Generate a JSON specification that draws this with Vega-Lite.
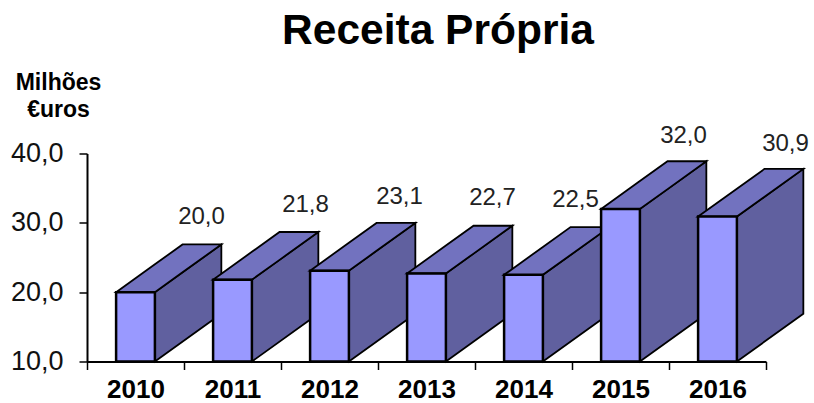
{
"$schema":"https://vega.github.io/schema/vega-lite/v6.json",
"width":679,"height":208,
"autosize":"none",
"padding":{"left":87,"top":153.5,"right":48,"bottom":41.5},
"background":"white",
"title":{"text":"Receita Própria","font":"Liberation Sans","fontSize":42.5,"fontWeight":"bold","color":"#000000","anchor":"middle","dx":11.5,"offset":23,"dy":38,"baseline":"alphabetic"},
"datasets":{"bars":[
{"year":2010,"value":20.0},{"year":2011,"value":21.8},{"year":2012,"value":23.1},{"year":2013,"value":22.7},{"year":2014,"value":22.5},{"year":2015,"value":32.0},{"year":2016,"value":30.9}]},
"data":{"name":"bars"},
"encoding":{},
"layer":[
{"transform":[
 {"calculate":"[0,1]","as":"t"},{"flatten":["t"]},
 {"calculate":"datum.year+0.2+0.685*datum.t","as":"px"},
 {"calculate":"10+6.88*datum.t","as":"low"},
 {"calculate":"datum.value+6.88*datum.t","as":"high"}],
 "mark":{"type":"area","orient":"vertical","color":"#60609f","stroke":"#000000","strokeWidth":1.8,"clip":false},
 "encoding":{
  "x":{"field":"px","type":"quantitative","scale":{"domain":[2009.5,2016.5]},
   "axis":{"values":[2009.5,2010,2010.5,2011,2011.5,2012,2012.5,2013,2013.5,2014,2014.5,2015,2015.5,2016,2016.5],
    "title":null,"grid":false,"domainColor":"#000000","domainWidth":2,"tickColor":"#000000","tickWidth":1.5,"tickSize":8,
    "tickOpacity":{"condition":{"test":"datum.value%1!=0","value":1},"value":0},
    "labelExpr":"datum.value%1==0 ? ''+datum.value : ''","labelFont":"Liberation Sans","labelFontSize":26,"labelFontWeight":"bold","labelColor":"#000000","labelPadding":7,"labelOverlap":false,"labelFlush":false}},
  "y":{"field":"high","type":"quantitative","scale":{"domain":[10,40]},
   "axis":{"values":[10,20,30,40],"title":["Milhões","€uros"],"titleFont":"Liberation Sans","titleFontSize":23,"titleFontWeight":"bold","titleColor":"#000000","titleAngle":0,"titleAlign":"center","titleBaseline":"middle","titleX":-29,"titleY":-71,"titleLineHeight":27,
    "grid":false,"domainColor":"#000000","domainWidth":2,"tickColor":"#000000","tickWidth":1.5,"tickSize":8,
    "labelExpr":"replace(format(datum.value,'.1f'),'.',',')","labelFont":"Liberation Sans","labelFontSize":27,"labelColor":"#111111","labelPadding":16}},
  "y2":{"field":"low"},
  "detail":{"field":"year"}}},
{"transform":[
 {"calculate":"[0,1,2,3]","as":"t"},{"flatten":["t"]},
 {"calculate":"datum.year-0.2+[0,0.4,0.685,1.085][datum.t]","as":"px"},
 {"calculate":"datum.value+[0,0,2.86,6.88][datum.t]","as":"low"},
 {"calculate":"datum.value+[0,4.02,6.88,6.88][datum.t]","as":"high"}],
 "mark":{"type":"area","orient":"vertical","color":"#7272bf","stroke":"#000000","strokeWidth":1.8,"clip":false},
 "encoding":{
  "x":{"field":"px","type":"quantitative"},
  "y":{"field":"high","type":"quantitative"},
  "y2":{"field":"low"},
  "detail":{"field":"year"}}},
{"transform":[
 {"calculate":"datum.year-0.2","as":"x1"},
 {"calculate":"datum.year+0.2","as":"x2"}],
 "mark":{"type":"rect","color":"#9999ff","stroke":"#000000","strokeWidth":2.5},
 "encoding":{
  "x":{"field":"x1","type":"quantitative"},
  "x2":{"field":"x2"},
  "y":{"field":"value","type":"quantitative"},
  "y2":{"datum":10}}},
{"transform":[{"filter":"datum.year==2010||datum.year==2013"},{"calculate":"replace(format(datum.value,'.1f'),'.',',')","as":"label"}],
 "mark":{"type":"text","font":"Liberation Sans","fontSize":24,"color":"#222222","dx":66,"dy":-75,"baseline":"middle"},
 "encoding":{"x":{"field":"year","type":"quantitative"},"y":{"field":"value","type":"quantitative"},"text":{"field":"label"}}},
{"transform":[{"filter":"datum.year==2011"},{"calculate":"replace(format(datum.value,'.1f'),'.',',')","as":"label"}],
 "mark":{"type":"text","font":"Liberation Sans","fontSize":24,"color":"#222222","dx":73,"dy":-75,"baseline":"middle"},
 "encoding":{"x":{"field":"year","type":"quantitative"},"y":{"field":"value","type":"quantitative"},"text":{"field":"label"}}},
{"transform":[{"filter":"datum.year==2012"},{"calculate":"replace(format(datum.value,'.1f'),'.',',')","as":"label"}],
 "mark":{"type":"text","font":"Liberation Sans","fontSize":24,"color":"#222222","dx":70,"dy":-74,"baseline":"middle"},
 "encoding":{"x":{"field":"year","type":"quantitative"},"y":{"field":"value","type":"quantitative"},"text":{"field":"label"}}},
{"transform":[{"filter":"datum.year==2014"},{"calculate":"replace(format(datum.value,'.1f'),'.',',')","as":"label"}],
 "mark":{"type":"text","font":"Liberation Sans","fontSize":24,"color":"#222222","dx":52,"dy":-75,"baseline":"middle"},
 "encoding":{"x":{"field":"year","type":"quantitative"},"y":{"field":"value","type":"quantitative"},"text":{"field":"label"}}},
{"transform":[{"filter":"datum.year==2015"},{"calculate":"replace(format(datum.value,'.1f'),'.',',')","as":"label"}],
 "mark":{"type":"text","font":"Liberation Sans","fontSize":24,"color":"#222222","dx":63,"dy":-73,"baseline":"middle"},
 "encoding":{"x":{"field":"year","type":"quantitative"},"y":{"field":"value","type":"quantitative"},"text":{"field":"label"}}},
{"transform":[{"filter":"datum.year==2016"},{"calculate":"replace(format(datum.value,'.1f'),'.',',')","as":"label"}],
 "mark":{"type":"text","font":"Liberation Sans","fontSize":24,"color":"#222222","dx":68,"dy":-73,"baseline":"middle"},
 "encoding":{"x":{"field":"year","type":"quantitative"},"y":{"field":"value","type":"quantitative"},"text":{"field":"label"}}}
],
"config":{"view":{"stroke":null}}
}
